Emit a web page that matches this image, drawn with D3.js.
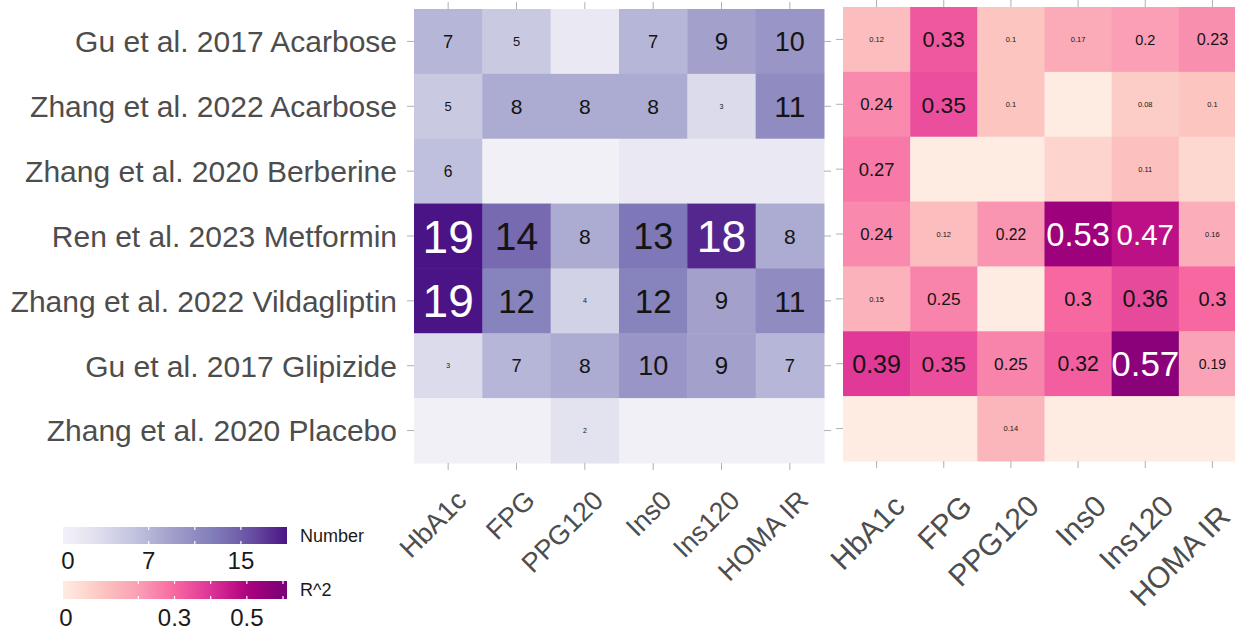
<!DOCTYPE html>
<html>
<head>
<meta charset="utf-8">
<script src="https://cdn.jsdelivr.net/npm/d3@7"></script>
<style>
  html, body { margin: 0; padding: 0; background: #fff; }
  svg { display: block; font-family: "Liberation Sans", Arial, Helvetica, sans-serif; }
</style>
</head>
<body>
<svg id="chart" width="1235" height="634"></svg>
<script>
// Studies (rows) and outcome measures (columns)
const studies = [
  "Gu et al. 2017 Acarbose",
  "Zhang et al. 2022 Acarbose",
  "Zhang et al. 2020 Berberine",
  "Ren et al. 2023 Metformin",
  "Zhang et al. 2022 Vildagliptin",
  "Gu et al. 2017 Glipizide",
  "Zhang et al. 2020 Placebo"
];
const measures = ["HbA1c", "FPG", "PPG120", "Ins0", "Ins120", "HOMA IR"];

// Number of associated features per study and measure
const numberValues = [
  [7, 5, 1, 7, 9, 10],
  [5, 8, 8, 8, 3, 11],
  [6, 0, 0, 1, 1, 1],
  [19, 14, 8, 13, 18, 8],
  [19, 12, 4, 12, 9, 11],
  [3, 7, 8, 10, 9, 7],
  [0, 0, 2, 0, 0, 0]
];

// Explained variance (R^2) per study and measure
const r2Values = [
  [0.12, 0.33, 0.10, 0.17, 0.20, 0.23],
  [0.24, 0.35, 0.10, 0.00, 0.08, 0.10],
  [0.27, 0.00, 0.00, 0.06, 0.11, 0.05],
  [0.24, 0.12, 0.22, 0.53, 0.47, 0.16],
  [0.15, 0.25, 0.00, 0.30, 0.36, 0.30],
  [0.39, 0.35, 0.25, 0.32, 0.57, 0.19],
  [0.00, 0.00, 0.14, 0.00, 0.00, 0.00]
];

// Legend tick labels
const numberLegendLabels = [0, 7, 15];
const numberLegendTicks = [7, 11, 15];
const r2LegendLabels = [0, 0.3, 0.5];
const r2LegendTicks = [0.2, 0.3, 0.4, 0.5, 0.6];

const W = 1235;
const svg = d3.select("#chart");

const purples = ["#f2f0f7", "#dadaeb", "#bcbddc", "#9e9ac8", "#807dba", "#6a51a3", "#4a1486"];
const rdpu = ["#feebe2", "#fcc5c0", "#fa9fb5", "#f768a1", "#dd3497", "#ae017e", "#7a0177"];

function multiStop(colors, max) {
  return d3.scaleLinear()
    .domain(colors.map((_, i) => i * max / (colors.length - 1)))
    .range(colors)
    .interpolate(d3.interpolateRgb)
    .clamp(true);
}
const numColor = multiStop(purples, 19);
const r2Color = multiStop(rdpu, 0.6);

// Label size grows with the cell value
const numSize = d3.scaleLinear().domain([4, 5, 8, 12, 14, 19]).range([7, 13, 21, 33, 39, 46]).clamp(true);
const r2Size = d3.scaleLinear().domain([0.17, 0.19, 0.57]).range([7.5, 14, 35]).clamp(true);

function flatten(values) {
  const out = [];
  values.forEach((row, r) => row.forEach((v, c) => out.push({ study: studies[r], measure: measures[c], value: v })));
  return out;
}

function heatmap(cfg) {
  const x = d3.scaleBand().domain(measures).range([cfg.x0, cfg.x1]);
  const y = d3.scaleBand().domain(studies).range([cfg.y0, cfg.y1]);
  const g = svg.append("g");
  const cells = flatten(cfg.values);

  g.selectAll("rect").data(cells).join("rect")
    .attr("x", d => x(d.measure))
    .attr("y", d => y(d.study))
    .attr("width", x.bandwidth() + 0.5)
    .attr("height", y.bandwidth() + 0.5)
    .attr("fill", d => cfg.color(d.value));

  g.selectAll("text.val").data(cells.filter(d => d.value >= cfg.minLabel)).join("text")
    .attr("class", "val")
    .attr("x", d => x(d.measure) + x.bandwidth() / 2)
    .attr("y", d => y(d.study) + y.bandwidth() / 2)
    .attr("text-anchor", "middle")
    .attr("dy", "0.36em")
    .attr("font-size", d => cfg.size(d.value))
    .attr("fill", d => d.value > cfg.whiteAbove ? "#ffffff" : "#141414")
    .text(d => String(d.value));

  // Tick marks on all four sides
  const tl = 7;
  const ticks = svg.append("g").attr("stroke", "#b0b0b0").attr("stroke-width", 1);
  measures.forEach(m => {
    const cx = x(m) + x.bandwidth() / 2;
    ticks.append("line").attr("x1", cx).attr("x2", cx).attr("y1", cfg.y1).attr("y2", cfg.y1 + tl);
    ticks.append("line").attr("x1", cx).attr("x2", cx).attr("y1", cfg.y0 - tl).attr("y2", cfg.y0);
  });
  studies.forEach(s => {
    const cy = y(s) + y.bandwidth() / 2;
    ticks.append("line").attr("x1", cfg.x0 - tl).attr("x2", cfg.x0).attr("y1", cy).attr("y2", cy);
    ticks.append("line").attr("x1", cfg.x1).attr("x2", cfg.x1 + tl).attr("y1", cy).attr("y2", cy);
  });

  // Rotated measure labels, pulled back along their direction if they would leave the frame
  svg.append("g").selectAll("text").data(measures).join("text")
    .attr("transform", m => {
      let ax = x(m) + x.bandwidth() / 2 + cfg.lx;
      let ay = cfg.ly;
      const over = ax - (W - 3);
      if (over > 0) { ax -= over; ay += over; }
      return `translate(${ax},${ay}) rotate(-45)`;
    })
    .attr("text-anchor", "end")
    .attr("font-size", cfg.xFont)
    .attr("fill", "#4d4d4d")
    .text(m => m);

  return { x, y };
}

const left = heatmap({
  values: numberValues, x0: 414, x1: 824, y0: 9, y1: 463,
  color: numColor, size: numSize, minLabel: 2, whiteAbove: 15,
  lx: 20, ly: 502, xFont: 27
});

heatmap({
  values: r2Values, x0: 843, x1: 1246, y0: 7, y1: 461,
  color: r2Color, size: r2Size, minLabel: 0.08, whiteAbove: 0.45,
  lx: 30, ly: 508, xFont: 30
});

// Study labels
svg.append("g").selectAll("text").data(studies).join("text")
  .attr("x", 397)
  .attr("y", s => left.y(s) + left.y.bandwidth() / 2)
  .attr("dy", "0.36em")
  .attr("text-anchor", "end")
  .attr("font-size", 30)
  .attr("fill", "#4d4d4d")
  .text(s => s);

// Colour bar legends
const defs = svg.append("defs");
function colorbar(cfg) {
  const grad = defs.append("linearGradient").attr("id", cfg.id);
  d3.range(0, 1.0001, 0.05).forEach(t => {
    grad.append("stop").attr("offset", t).attr("stop-color", cfg.color(cfg.scale.invert(cfg.bx0 + t * (cfg.bx1 - cfg.bx0))));
  });
  const g = svg.append("g");
  g.append("rect").attr("x", cfg.bx0).attr("y", cfg.by).attr("width", cfg.bx1 - cfg.bx0).attr("height", cfg.bh)
    .attr("fill", `url(#${cfg.id})`);
  g.selectAll("line.bot").data(cfg.ticks).join("line")
    .attr("class", "bot")
    .attr("x1", d => cfg.scale(d)).attr("x2", d => cfg.scale(d))
    .attr("y1", cfg.by + cfg.bh - 3).attr("y2", cfg.by + cfg.bh)
    .attr("stroke", "#fff").attr("stroke-width", 1.2);
  g.selectAll("line.top").data(cfg.ticks).join("line")
    .attr("class", "top")
    .attr("x1", d => cfg.scale(d)).attr("x2", d => cfg.scale(d))
    .attr("y1", cfg.by).attr("y2", cfg.by + 3)
    .attr("stroke", "#fff").attr("stroke-width", 1.2);
  g.selectAll("text.lab").data(cfg.labels).join("text")
    .attr("class", "lab")
    .attr("x", d => cfg.scale(d))
    .attr("y", cfg.ly)
    .attr("text-anchor", "middle")
    .attr("font-size", 24)
    .attr("fill", "#1a1a1a")
    .text(d => String(d));
  g.append("text").attr("x", cfg.bx1 + 13).attr("y", cfg.by + cfg.bh / 2).attr("dy", "0.36em")
    .attr("font-size", 18).attr("fill", "#1a1a1a").text(cfg.title);
}

colorbar({
  id: "gradNumber", scale: d3.scaleLinear().domain([0, 19]).range([68, 287]),
  color: numColor, bx0: 63, bx1: 287, by: 527, bh: 17, ly: 569,
  ticks: numberLegendTicks, labels: numberLegendLabels, title: "Number"
});
colorbar({
  id: "gradR2", scale: d3.scaleLinear().domain([0, 0.6]).range([66, 283]),
  color: r2Color, bx0: 63, bx1: 287, by: 581, bh: 18, ly: 626,
  ticks: r2LegendTicks, labels: r2LegendLabels, title: "R^2"
});
</script>
</body>
</html>
